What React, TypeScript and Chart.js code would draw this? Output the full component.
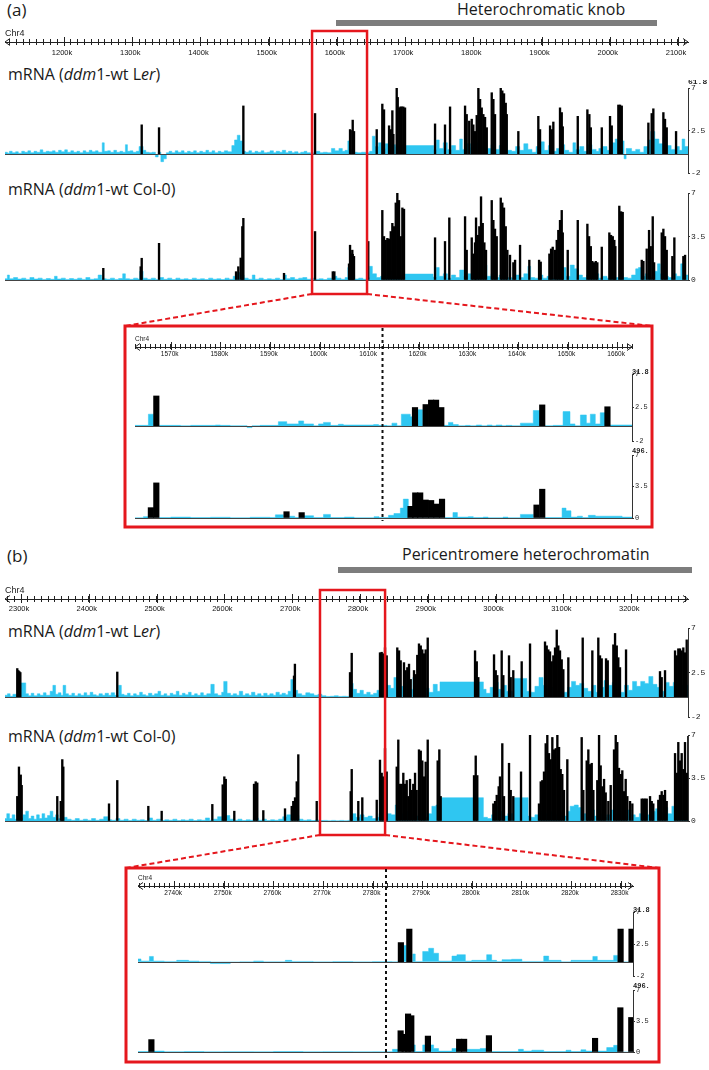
import React, { useEffect, useRef } from 'react';
import { Chart, registerables } from 'chart.js';

Chart.register(...registerables);

type Pt = [number, number]; // [position (kb), value]

// ---------------- genomic windows (kb) ----------------
const A_VIEW: [number, number] = [1113.5, 2114.7];
const A_ZOOM: [number, number] = [1562.8, 1663.0];
const A_BOX: [number, number] = [1563.6, 1644.2];
const A_MARK = 1612.7;
const B_VIEW: [number, number] = [2276.4, 3283.8];
const B_ZOOM: [number, number] = [2732.7, 2832.5];
const B_BOX: [number, number] = [2741, 2837];
const B_MARK = 2782.7;

// ---------------- y-axis ticks ----------------
const LER_TICKS = [-2, 2.5, 7];
const COL_TICKS = [0, 3.5, 7];

// ---------------- panel (a) overview ----------------
const A_LER_BLACK: Pt[] = [
  [1313.9,3.1],[1339.3,2.8],[1462.9,5.1],[1568,4.3],[1619.3,2.6],[1620.3,2.5],[1623.2,3.6],[1625.1,2.4],
  [1658.4,2.6],[1666.6,5.3],[1669.1,4.7],[1676.5,3.0],[1679,2.6],[1681.3,4.6],[1682.8,2.1],[1687.7,7.0],
  [1689.2,6.0],[1691.5,4.9],[1693.2,5.0],[1695,5.0],[1697.4,5.0],[1699.9,4.9],[1743.9,3.2],[1758.5,3.1],
  [1765.9,5.0],[1787.9,5.1],[1790.3,4.2],[1794,3.5],[1797.7,3.7],[1800,3.1],[1802.5,2.4],[1805,4.1],
  [1807.4,7.0],[1809.9,5.8],[1812.3,4.9],[1814.7,4.2],[1817.2,3.9],[1819.7,2.8],[1827,6.5],[1829.4,5.8],
  [1831.8,4.2],[1840.2,7.0],[1842.5,6.7],[1845,6.4],[1847.5,5.4],[1849,4.2],[1866,2.4],[1895.3,4.0],
  [1897.8,2.6],[1912.5,3.0],[1915.4,2.6],[1917.3,3.4],[1927.1,4.9],[1929.6,4.4],[1931.1,2.9],[1953.1,4.0],
  [1967.2,4.7],[1970.1,4.2],[1972.2,2.8],[1988.3,2.8],[2000.4,4.0],[2002.9,3.0],[2012.6,5.2],[2015.1,5.2],
  [2017.6,5.1],[2056.6,3.3],[2061.5,4.3],[2063.9,4.8],[2078.6,4.4],[2081,3.7],[2083.5,2.8],[2097.2,2.4],
];
const A_LER_CYAN: Pt[] = [
  [1113.5,0.2],[1117,0.1],[1120,0.3],[1124,0.15],[1129,0.25],[1133,0.1],[1138,0.3],[1142,0.2],[1147,0.35],
  [1151,0.15],[1156,0.3],[1160,0.2],[1165,0.45],[1169,0.2],[1174,0.3],[1178,0.25],[1183,0.35],[1187,0.2],
  [1192,0.4],[1196,0.25],[1201,0.45],[1205,0.2],[1210,0.35],[1214,0.2],[1219,0.3],[1223,0.15],[1228,0.35],
  [1232,0.2],[1237,0.4],[1241,0.25],[1246,0.35],[1250,0.2],[1256,1.2],[1259,0.3],[1264,0.35],[1268,0.2],
  [1273,0.4],[1277,0.2],[1282,0.3],[1286,0.2],[1290,1.0],[1293,0.3],[1297,0.35],[1301,0.2],[1306,0.3],
  [1310,0.8],[1316,0.4],[1320,0.2],[1325,0.15],[1329,0.2],[1334,-0.3],[1338,0.2],[1342,-0.8],[1346,-0.5],
  [1350,0.15],[1354,0.3],[1358,0.15],[1363,0.35],[1367,0.2],[1372,0.35],[1376,0.15],[1381,0.3],[1385,0.2],
  [1390,0.35],[1394,0.15],[1399,0.3],[1403,0.2],[1408,0.4],[1412,0.2],[1417,0.35],[1421,0.15],[1426,0.3],
  [1430,0.2],[1435,0.35],[1440,0.25],[1446,0.9],[1450,1.5],[1454,2.0],[1458,1.4],[1462,0.3],[1466,0.2],
  [1471,0.35],[1475,0.15],[1480,0.3],[1484,0.2],[1489,0.35],[1493,0.15],[1498,0.2],[1502,0.35],[1507,0.15],
  [1511,0.3],[1516,0.2],[1520,0.4],[1525,0.15],[1529,0.3],[1534,0.15],[1538,0.25],[1543,0.1],[1547,0.2],
  [1552,0.3],[1556,0.15],[1561,0.1],[1566,0.15],[1570,0.3],[1575,0.15],[1580,0.2],[1586,0.15],[1592,0.6],
  [1597,0.35],[1603,0.6],[1608,0.3],[1612,0.4],[1616,1.4],[1620,0.5],[1624,0.2],[1630,0.15],[1636,0.2],
  [1642,0.15],[1648,0.3],[1652,1.9],[1656,0.8],[1661,1.2],[1666,0.6],[1671,1.1],[1676,0.6],[1681,1.0],
  [1686,0.8],[1692,1.0],[1696,0.8],[1700,0.9],[1742,0.5],[1746,1.5],[1750,0.6],[1756,1.2],[1762,0.5],
  [1768,0.9],[1774,0.4],[1780,1.6],[1784,0.5],[1790,1.1],[1796,0.7],[1802,1.2],[1808,0.8],[1814,1.4],
  [1820,0.6],[1826,1.0],[1832,0.5],[1838,0.9],[1844,1.5],[1850,0.4],[1856,0.3],[1862,0.8],[1868,0.4],
  [1874,1.1],[1880,0.5],[1886,0.2],[1892,0.8],[1898,1.3],[1904,0.4],[1910,0.9],[1916,0.3],[1922,0.6],
  [1928,1.0],[1934,0.4],[1940,0.2],[1946,1.2],[1950,0.5],[1956,0.8],[1962,0.3],[1968,1.0],[1974,0.5],
  [1980,0.3],[1984,0.6],[1990,0.8],[1996,0.4],[2002,1.2],[2008,1.6],[2014,2.0],[2018,1.4],[2021,-0.5],
  [2024,0.6],[2032,0.3],[2038,0.5],[2044,0.2],[2050,0.8],[2056,1.5],[2060,2.4],[2066,1.6],[2072,1.1],
  [2078,1.8],[2084,0.9],[2090,0.5],[2096,0.8],[2102,0.4],[2106,1.6],[2110,0.8],[2114.7,0.8],
];
const A_COL_BLACK: Pt[] = [
  [1257.6,0.94],[1312.4,1.07],[1313.9,1.75],[1339.3,2.95],[1452.2,0.67],[1455.5,1.07],[1459,1.77],[1461.4,4.3],
  [1462.9,4.96],[1522.5,0.54],[1568,3.9],[1594,0.67],[1596.3,0.67],[1617.8,1.3],[1619.3,2.8],[1620.7,2.1],
  [1622.6,2.4],[1623.2,2.07],[1625.1,1.9],[1646,3.1],[1666.6,5.6],[1669.1,3.5],[1671.6,3.2],[1674,3.35],
  [1676.5,3.3],[1679,3.9],[1681.3,4.56],[1683.8,4.3],[1686.3,6.2],[1688.6,7.0],[1691.1,6.4],[1693.6,3.5],
  [1696,5.8],[1698.4,5.7],[1743.9,3.4],[1758.5,3.1],[1764.8,5.0],[1787.9,5.1],[1790.3,2.4],[1797.7,3.4],
  [1800,2.1],[1802.5,3.0],[1804,5.0],[1806.5,3.6],[1808.8,4.3],[1811.3,6.7],[1813.8,4.56],[1816.2,3.0],
  [1818.6,2.4],[1827,6.4],[1829.4,4.8],[1831.8,4.1],[1834.3,3.5],[1840.2,6.6],[1842.5,6.2],[1845,5.8],
  [1847.5,4.3],[1849.9,2.4],[1853.8,2.0],[1858.7,1.4],[1861.2,1.6],[1868.5,2.8],[1882.1,1.6],[1896.4,1.6],
  [1898.8,1.45],[1911.5,2.1],[1914,2.5],[1916.4,2.65],[1919.8,2.4],[1922.3,3.2],[1924.6,4.0],[1927.1,4.8],
  [1929.6,5.6],[1931.1,3.8],[1938.4,2.4],[1953.1,4.8],[1967.2,4.5],[1969.7,3.5],[1972.2,2.7],[1974.5,1.5],
  [1977,1.4],[1979.5,1.5],[1981.8,1.4],[1988.3,2.65],[1999.4,3.8],[2001.9,3.6],[2004.4,3.5],[2006.7,3.2],
  [2008.2,2.7],[2014,5.95],[2016.6,5.5],[2019,5.45],[2046.9,1.6],[2049.3,1.5],[2054.2,2.5],[2057.6,4.0],
  [2060.1,2.7],[2063,5.1],[2065,1.4],[2076.2,3.8],[2078.6,4.1],[2081,3.5],[2083.5,2.4],[2091.8,1.9],
  [2094.7,3.4],[2107.9,1.9],[2110.4,2.0],
];
const A_COL_CYAN: Pt[] = [
  [1113.5,0.1],[1117,0.4],[1120,0.1],[1126,0.2],[1132,0.08],[1138,0.15],[1144,0.05],[1150,0.2],[1156,0.08],
  [1162,0.15],[1168,0.05],[1174,0.12],[1180,0.06],[1186,0.3],[1190,0.08],[1196,0.15],[1202,0.05],[1208,0.12],
  [1214,0.06],[1220,0.15],[1226,0.05],[1232,0.2],[1238,0.06],[1244,0.1],[1250,0.4],[1255,0.1],[1262,0.06],
  [1268,0.15],[1274,0.05],[1280,0.12],[1286,0.5],[1290,0.1],[1296,0.06],[1302,0.15],[1308,0.08],[1311,0.7],
  [1316,0.15],[1322,0.06],[1328,0.15],[1334,0.05],[1340,0.2],[1346,0.06],[1352,0.15],[1358,0.04],[1364,0.15],
  [1370,0.06],[1376,0.1],[1382,0.04],[1388,0.15],[1394,0.06],[1400,0.1],[1406,0.04],[1412,0.15],[1418,0.06],
  [1424,0.1],[1430,0.04],[1436,0.15],[1442,0.06],[1448,0.3],[1452,0.6],[1458,0.4],[1464,0.15],[1470,0.06],
  [1476,0.4],[1480,0.06],[1486,0.15],[1492,0.04],[1498,0.1],[1504,0.06],[1510,0.15],[1516,0.04],[1522,0.4],
  [1526,0.1],[1532,0.2],[1538,0.06],[1544,0.15],[1550,0.2],[1556,0.06],[1562,0.15],[1568,0.06],[1574,0.1],
  [1580,0.04],[1586,0.15],[1592,0.06],[1596,0.3],[1600,0.15],[1606,0.06],[1612,0.2],[1616,1.0],[1620,0.4],
  [1626,0.08],[1632,0.15],[1638,0.06],[1644,0.2],[1648,1.1],[1652,0.5],[1658,0.2],[1664,0.3],[1668,1.2],
  [1672,0.4],[1678,0.7],[1684,0.3],[1690,0.5],[1696,0.25],[1700,0.48],[1741,0.25],[1746,1.0],[1750,0.3],
  [1756,0.5],[1762,0.15],[1768,0.4],[1774,0.2],[1780,0.8],[1786,0.3],[1792,0.5],[1798,0.2],[1804,0.6],
  [1810,0.4],[1816,1.2],[1820,0.3],[1826,0.5],[1832,0.2],[1838,0.4],[1844,0.8],[1850,0.2],[1856,0.15],
  [1862,0.4],[1868,0.2],[1874,0.5],[1880,1.1],[1884,0.2],[1890,0.15],[1896,0.4],[1902,0.15],[1908,0.3],
  [1914,0.15],[1920,0.4],[1926,0.2],[1932,1.0],[1936,0.3],[1942,1.2],[1948,0.9],[1954,0.4],[1960,0.2],
  [1966,0.4],[1972,0.2],[1978,0.5],[1984,0.15],[1990,0.3],[1996,0.15],[2002,0.4],[2008,0.2],[2014,0.5],
  [2020,0.2],[2026,0.15],[2032,0.4],[2038,0.9],[2042,1.0],[2046,0.3],[2052,0.5],[2058,0.2],[2064,0.7],
  [2070,1.3],[2074,0.5],[2080,0.3],[2086,0.2],[2092,0.5],[2098,0.3],[2104,1.3],[2108,0.4],[2114.7,0.4],
];

// ---------------- panel (a) zoom ----------------
const A_IN_LER_BLACK: Pt[] = [
  [1567.1,4.05],[1619.25,2.5],[1621.4,2.9],[1622.5,3.5],[1623.5,3.5],[1624.55,2.5],[1644.9,2.85],[1658.05,2.6],
];
const A_IN_LER_CYAN: Pt[] = [
  [1562.8,0.1],[1565.5,1.6],[1566.5,0],[1567.7,0.1],[1570,0.1],[1572,0.05],[1574,0.1],[1579,0.15],[1580,0.1],
  [1582,0.05],[1585.4,-0.2],[1586.4,0.05],[1588,0.1],[1591.7,0.6],[1593.4,0.3],[1595.8,0.7],[1596.8,0.3],
  [1598.8,0.05],[1599.8,0.3],[1600.8,0.5],[1602.2,0.1],[1603.8,0.25],[1604.8,0.15],[1610.9,0.2],[1611.9,0.1],
  [1613.6,0.05],[1614.6,0.4],[1615.6,0.05],[1616.5,1.6],[1618.3,1.25],[1618.8,0],[1619.7,2.2],[1620.8,0],
  [1625.1,0.1],[1626,0.5],[1626.9,0.2],[1628,0.05],[1629.4,0.1],[1630.4,0.05],[1631.6,0.15],[1632.7,0.05],
  [1633.8,0.15],[1634.8,0.05],[1635.6,0.15],[1636.8,0.05],[1637.6,0.1],[1638.8,0.05],[1640.5,0.4],[1643.1,2.1],
  [1644.4,0],[1645.4,0.05],[1647.1,0.1],[1649.1,1.95],[1650.5,0.3],[1651.5,0.05],[1652.6,1.5],[1653.8,0.4],
  [1654.6,1.6],[1655.6,0.3],[1656.6,1.8],[1657.6,0],[1658.5,0.15],[1663,0.15],
];
const A_IN_COL_BLACK: Pt[] = [
  [1566.0,1.15],[1567.1,3.9],[1593.35,0.7],[1596.4,0.6],[1618.35,1.3],[1619.3,2.8],[1620.3,2.8],[1621.4,2.0],
  [1622.5,1.95],[1623.6,1.55],[1624.7,2.1],[1643.75,1.45],[1644.9,3.2],
];
const A_IN_COL_CYAN: Pt[] = [
  [1562.8,0.02],[1564.5,0.15],[1565.5,0],[1567.7,0.05],[1570,0.1],[1574,0.05],[1578,0.08],[1582,0.03],
  [1586,0.08],[1590,0.05],[1591.1,0.35],[1592.7,0],[1594,0.2],[1595,0.05],[1596.7,0.25],[1598.8,0.05],
  [1600.8,0.4],[1602.2,0.05],[1605,0.1],[1607,0.03],[1611,0.15],[1612,0.05],[1613.9,0.3],[1615,0.5],
  [1616.3,1.1],[1616.9,2.1],[1617.9,0],[1625.2,0.05],[1626.9,0.6],[1627.8,0.1],[1630,0.15],[1631,0.05],
  [1633,0.1],[1634,0.03],[1637,0.1],[1638,0.03],[1640.5,0.4],[1643.1,0],[1645.4,0.05],[1648.9,1.1],
  [1649.7,0.8],[1650.7,0.1],[1652,0.2],[1653,0.05],[1654.2,0.3],[1655.6,0.2],[1660,0.2],[1661,0.1],[1663,0.1],
];

// ---------------- panel (b) overview ----------------
const B_LER_BLACK: Pt[] = [
  [2294.5,2.9],[2296,2.7],[2297.5,2.6],[2299,2.5],[2442,2.55],[2702.7,2.15],[2704,3.35],[2785.3,2.5],
  [2787.8,4.45],[2829.5,4.5],[2832,4.55],[2834.4,4.4],[2836.9,5.0],[2839.4,4.2],[2855,5.0],[2857.6,4.7],
  [2860,3.7],[2864.9,3.5],[2867.4,2.7],[2869.8,3.0],[2872.3,3.35],[2874.8,1.8],[2879.7,2.7],[2882.2,2.3],
  [2884.5,4.25],[2887,5.4],[2889.6,5.2],[2891.9,4.8],[2894.4,4.4],[2896.9,4.8],[2899.9,6.0],[2969.7,4.7],
  [2972.2,3.6],[2974.5,2.0],[2997.7,4.3],[3000.2,2.7],[3002.5,2.2],[3009,4.7],[3011.4,2.2],[3019.8,4.2],
  [3022.3,2.0],[3026.1,2.7],[3038.5,3.6],[3050.8,5.4],[3072.9,5.6],[3075.4,5.2],[3077.8,4.8],[3080.3,4.6],
  [3082.8,3.6],[3085.2,4.2],[3087.7,5.0],[3090.2,6.8],[3092.5,5.2],[3095,4.7],[3097.5,3.8],[3099.9,2.8],
  [3107.3,4.0],[3128.5,6.0],[3142.7,4.7],[3151.5,6.0],[3154,4.2],[3156.5,3.9],[3162.9,3.9],[3165.4,3.7],
  [3173.7,5.3],[3176.2,6.45],[3178.7,5.2],[3181,4.0],[3183.5,3.0],[3192.4,4.8],[3242.5,2.6],[3245,2.0],
  [3249.9,2.7],[3264.7,4.7],[3267.2,4.2],[3269.5,4.9],[3272,4.9],[3274.5,4.7],[3276.9,5.0],[3279.4,4.5],
  [3281.9,5.8],
];
const B_LER_CYAN: Pt[] = [
  [2276.4,0.2],[2280,0.35],[2284,0.1],[2288,0.3],[2293,0.15],[2300,1.45],[2307,0.35],[2311,0.15],[2315,0.4],
  [2319,0.15],[2324,0.35],[2328,0.2],[2333,0.45],[2337,0.2],[2343,0.6],[2347,1.2],[2351,0.3],[2355,0.45],
  [2359,0.2],[2362,1.2],[2366,0.35],[2370,0.2],[2375,0.4],[2379,0.15],[2384,0.35],[2388,0.2],[2393,0.45],
  [2397,0.2],[2402,0.5],[2406,0.25],[2411,0.15],[2415,0.35],[2420,0.2],[2424,0.4],[2429,0.2],[2433,0.45],
  [2438,0.2],[2444,1.2],[2448,0.3],[2452,0.2],[2457,0.4],[2461,0.15],[2466,0.35],[2470,0.2],[2475,0.5],
  [2479,0.25],[2484,0.15],[2488,0.4],[2493,0.2],[2497,0.35],[2502,0.6],[2506,0.2],[2511,0.35],[2515,0.15],
  [2520,0.4],[2524,0.25],[2529,0.6],[2533,0.2],[2538,0.4],[2542,0.25],[2547,0.5],[2551,0.2],[2556,0.35],
  [2560,0.2],[2565,0.45],[2569,0.2],[2574,0.35],[2580,1.3],[2585,0.35],[2590,0.2],[2596,0.5],[2599,1.6],
  [2604,0.4],[2609,0.2],[2613,0.35],[2618,0.2],[2622,0.6],[2627,0.2],[2631,0.35],[2636,0.2],[2640,0.5],
  [2645,0.2],[2649,0.35],[2654,0.15],[2658,0.4],[2663,0.2],[2667,0.35],[2672,0.2],[2676,0.5],[2681,0.25],
  [2685,0.4],[2690,0.25],[2694,0.6],[2698,1.8],[2703,0.7],[2708,0.35],[2714,0.2],[2720,0.45],[2726,0.35],
  [2732,0.2],[2738,0.3],[2744,0.15],[2750,0.08],[2756,0.1],[2762,0.15],[2768,0.08],[2774,0.1],[2780,0.08],
  [2786,1.4],[2790,0.8],[2795,0.4],[2800,0.7],[2805,0.3],[2810,0.5],[2815,0.25],[2820,0.4],[2825,0.7],
  [2830,0.3],[2840,1.2],[2845,0.9],[2850,2.0],[2855,1.5],[2860,1.1],[2866,1.5],[2872,0.8],[2878,2.0],
  [2884,1.4],[2890,1.6],[2896,0.9],[2902,0.5],[2908,1.3],[2914,0.6],[2918,1.55],[2982,0.8],[2986,0.4],
  [2992,1.0],[2998,1.5],[3004,0.8],[3010,1.2],[3016,0.6],[3026,1.9],[3046,0.6],[3052,0.5],[3058,1.1],
  [3064,2.0],[3070,1.2],[3076,0.8],[3082,1.0],[3088,0.6],[3094,0.9],[3100,0.5],[3106,1.0],[3112,1.6],
  [3118,1.2],[3124,1.4],[3130,0.9],[3136,0.6],[3142,1.2],[3148,0.5],[3154,1.0],[3160,1.7],[3166,1.2],
  [3172,1.5],[3178,0.8],[3184,0.5],[3190,1.2],[3196,0.7],[3202,1.6],[3208,1.1],[3214,1.6],[3220,1.4],
  [3226,2.1],[3232,1.3],[3238,1.0],[3244,0.6],[3250,1.5],[3256,1.1],[3262,1.5],[3268,0.8],[3274,1.2],
  [3283.8,1.2],
];
const B_COL_BLACK: Pt[] = [
  [2294.5,2.0],[2297,4.4],[2299.6,3.75],[2301,2.9],[2353.5,2.0],[2358.6,1.6],[2360.9,5.0],[2362.4,4.4],
  [2429.8,1.4],[2442,3.3],[2487.8,1.2],[2507.5,0.8],[2582.2,1.35],[2597.5,2.95],[2599.9,3.6],[2602,3.4],
  [2614.6,0.8],[2643.7,3.0],[2646.2,3.2],[2648.5,3.1],[2657.4,0.85],[2689.4,1.0],[2699.3,1.2],[2701.6,1.6],
  [2704.2,1.9],[2706.7,3.2],[2709,5.4],[2736.2,1.6],[2786.3,2.4],[2787.8,4.2],[2797.5,1.6],[2803.4,1.9],
  [2824.7,1.7],[2829.5,4.96],[2832,3.9],[2834.4,3.6],[2836.9,5.9],[2839.4,4.0],[2854.2,4.4],[2856.5,6.6],
  [2859,3.0],[2861.5,3.0],[2863.9,3.9],[2866.4,3.0],[2868.9,3.3],[2871.3,2.0],[2873.8,3.4],[2876.3,2.5],
  [2878.6,3.0],[2881.2,3.9],[2883.6,2.5],[2887,5.8],[2889.6,5.7],[2891.9,4.9],[2894.4,3.6],[2896.9,4.8],
  [2899.9,6.6],[2914.6,4.9],[2917,5.8],[2919,2.0],[2968.2,3.7],[2970.7,5.3],[2973,3.7],[2996.7,1.4],
  [2999.2,1.6],[3001.7,2.1],[3004.6,2.8],[3006.5,3.6],[3009.9,6.3],[3012.4,2.0],[3019.8,4.7],[3022.3,2.5],
  [3026.1,2.0],[3037.5,4.0],[3050.8,7.0],[3064,1.4],[3066.6,3.2],[3068.9,3.3],[3071.4,4.0],[3073.9,6.3],
  [3076.3,7.0],[3078.8,5.5],[3081.3,5.0],[3083.7,6.8],[3086.2,5.8],[3088.7,5.9],[3091.1,7.0],[3093.6,6.0],
  [3096,4.2],[3098.4,3.8],[3100.9,2.5],[3105.8,5.0],[3127,6.8],[3129.4,2.5],[3134.4,4.9],[3136.8,5.8],
  [3139.3,4.6],[3141.8,4.7],[3144.2,2.5],[3150,3.3],[3152.6,7.0],[3155,4.5],[3157.4,2.8],[3160,3.4],
  [3162.4,2.3],[3166.3,1.6],[3169.8,2.9],[3174.7,5.8],[3177.2,7.0],[3179.5,6.4],[3182,4.3],[3184.6,3.8],
  [3186.9,4.1],[3189.4,2.4],[3191.9,3.4],[3194.3,2.0],[3198.3,1.6],[3201.7,1.4],[3215.5,1.8],[3217.9,1.8],
  [3220.4,1.8],[3222.9,1.8],[3227.8,2.0],[3230.3,1.6],[3232.6,1.4],[3240,1.7],[3242.5,2.1],[3245,2.4],
  [3247.4,2.1],[3249.9,2.5],[3252.4,1.6],[3264.7,5.5],[3267.2,3.9],[3269.5,6.4],[3272,4.9],[3274.5,5.5],
  [3276.9,4.2],[3279.4,6.4],[3281.9,3.9],[3284.3,6.9],
];
const B_COL_CYAN: Pt[] = [
  [2276.4,0.2],[2279,0.6],[2283,0.2],[2287,0.5],[2291,0.15],[2295,0.7],[2299,0.25],[2303,0.5],[2307,0.8],
  [2311,0.2],[2315,0.4],[2319,0.15],[2323,0.5],[2327,0.2],[2331,0.6],[2335,0.25],[2339,0.45],[2343,0.8],
  [2347,0.3],[2351,0.5],[2355,0.2],[2359,0.8],[2363,0.3],[2368,0.15],[2374,0.06],[2380,0.2],[2386,0.06],
  [2392,0.15],[2398,0.06],[2404,0.2],[2410,0.06],[2416,0.15],[2422,0.35],[2428,0.1],[2434,0.06],[2440,0.2],
  [2446,0.06],[2452,0.15],[2458,0.04],[2464,0.15],[2470,0.06],[2476,0.1],[2482,0.04],[2488,0.25],[2494,0.06],
  [2500,0.15],[2506,0.04],[2512,0.1],[2518,0.06],[2524,0.15],[2530,0.04],[2536,0.1],[2542,0.06],[2548,0.15],
  [2554,0.04],[2560,0.1],[2566,0.06],[2572,0.25],[2578,0.06],[2584,0.15],[2590,0.35],[2596,0.15],[2602,0.45],
  [2608,0.15],[2614,0.06],[2620,0.15],[2626,0.04],[2632,0.1],[2638,0.06],[2644,0.25],[2650,0.06],[2656,0.15],
  [2662,0.04],[2668,0.1],[2674,0.06],[2680,0.15],[2686,0.35],[2692,0.5],[2698,0.25],[2704,0.45],[2710,0.15],
  [2716,0.06],[2722,0.1],[2728,0.04],[2734,0.08],[2740,0.04],[2746,0.05],[2752,0.02],[2758,0.05],[2764,0.02],
  [2770,0.05],[2776,0.02],[2782,0.05],[2788,0.6],[2794,0.3],[2800,0.5],[2806,0.3],[2812,0.4],[2818,0.2],
  [2824,0.3],[2828,0.6],[2834,0.3],[2840,0.6],[2846,0.5],[2852,1.3],[2858,0.6],[2864,0.4],[2870,0.8],
  [2876,0.5],[2882,0.4],[2888,0.6],[2894,0.3],[2900,0.6],[2906,1.2],[2912,1.3],[2918,1.9],[2982,0.3],
  [2988,0.2],[2994,0.5],[3000,1.2],[3006,0.8],[3012,0.4],[3018,0.6],[3026,1.9],[3048,0.4],[3052,0.3],
  [3058,0.5],[3064,0.8],[3070,0.6],[3076,0.5],[3082,0.8],[3088,0.5],[3094,0.7],[3100,0.4],[3106,0.8],
  [3110,1.2],[3116,1.3],[3122,1.1],[3128,0.6],[3134,0.3],[3140,0.9],[3146,0.4],[3152,0.6],[3158,0.3],
  [3164,0.5],[3170,0.9],[3176,0.6],[3182,0.8],[3188,0.4],[3194,0.9],[3200,0.5],[3206,0.3],[3212,0.6],
  [3218,0.9],[3224,0.5],[3230,0.8],[3236,1.0],[3242,0.7],[3248,1.1],[3254,0.6],[3260,1.2],[3266,1.3],
  [3272,0.8],[3278,0.6],[3283.8,0.6],
];

// ---------------- panel (b) zoom ----------------
const B_IN_LER_BLACK: Pt[] = [
  [2785.7,2.7],[2787.4,4.6],[2830.0,4.6],[2832.2,4.6],
];
const B_IN_LER_CYAN: Pt[] = [
  [2732.7,0.4],[2733.3,0.1],[2735.0,0.75],[2735.8,0.1],[2738,0.05],[2740.5,0.2],[2742.9,0.1],[2745,0.05],
  [2747.3,-0.25],[2751.3,-0.1],[2753.3,0.02],[2756,0.1],[2758,0.02],[2762.4,0.2],[2763.7,0.05],[2768,-0.05],
  [2772,0.03],[2776,-0.05],[2780,0.03],[2784,0.02],[2786.2,2.3],[2786.8,0],[2788.1,1.1],[2788.6,0.05],
  [2790.1,1.45],[2791.3,1.9],[2792.3,1.2],[2793.3,0.1],[2796,0.8],[2797,1.0],[2798.7,0.1],[2800,0.2],
  [2803,1.0],[2804,0.2],[2805,0.05],[2806.1,0.3],[2808,0.35],[2810.1,0.05],[2814.5,0.8],[2815.5,0.2],
  [2818,-0.05],[2820,0.2],[2824.4,0.75],[2825.3,0.2],[2828.6,0.9],[2829.4,0],[2832.5,0],
];
const B_IN_COL_BLACK: Pt[] = [
  [2735.4,1.4],[2785.65,2.4],[2786.45,2.0],[2787.15,4.3],[2787.8,4.1],[2791.15,1.8],[2797.45,1.45],
  [2798.45,1.45],[2803.45,1.85],[2824.85,1.55],[2829.95,5.0],[2832.15,3.9],
];
const B_IN_COL_CYAN: Pt[] = [
  [2732.7,0.05],[2735.8,0.1],[2738,0.03],[2742,0.05],[2746,0.02],[2750,0.04],[2756,0.02],[2760,0.05],
  [2766,0.02],[2770,0.04],[2776,0.02],[2780,0.03],[2784,0.3],[2785.2,0],[2788.1,0.8],[2788.6,0.05],
  [2790.1,0.8],[2790.8,0],[2791.5,0.8],[2792.3,0.4],[2793.3,0.1],[2796,0.4],[2797,0],[2798.9,0.3],
  [2800,0.3],[2801.7,0.4],[2802.9,0],[2804,0.05],[2809.4,0.3],[2810.4,0.1],[2812.1,0.2],[2814.5,0.05],
  [2819,0.2],[2820,0.05],[2822,0.25],[2823,0.1],[2824.4,0],[2825.3,0.1],[2827.2,0.5],[2828.6,0.75],
  [2829.4,0],[2832.5,0],
];

// ---------------- layout ----------------
const W = 709;
const H = 1070;
const CYAN = '#2fc6f1';
const RED = '#e5171d';
const AXIS_PAD_TOP = 12;
const AXIS_AREA = 3;
const AXIS_BOX = 14;
const AXIS_H = AXIS_PAD_TOP + AXIS_AREA + AXIS_BOX;
const TRACK_PAD = 8;
const YAXIS_W = 21;

interface AxisSpec {
  key: string; y: number; left: number; right: number; range: [number, number];
  minor: number; major: number; chrSize: number; labelPad: number; tick: number; labelSize: number; labelShift: number;
}
const AXES: AxisSpec[] = [
  { key: 'axA', y: 42, left: 5, right: 688, range: A_VIEW, minor: 10, major: 100, chrSize: 9, labelPad: 3, tick: 3, labelSize: 7.5, labelShift: -2 },
  { key: 'axAi', y: 347, left: 135, right: 632, range: A_ZOOM, minor: 1, major: 10, chrSize: 6.5, labelPad: 1, tick: 2, labelSize: 6.5, labelShift: -1 },
  { key: 'axB', y: 599, left: 5, right: 688, range: B_VIEW, minor: 10, major: 100, chrSize: 9, labelPad: 2, tick: 3, labelSize: 7.5, labelShift: -2 },
  { key: 'axBi', y: 886, left: 138, right: 633, range: B_ZOOM, minor: 1, major: 10, chrSize: 6.5, labelPad: 1, tick: 2, labelSize: 6.5, labelShift: -1 },
];

interface TrackSpec {
  key: string; top: number; bottom: number; left: number; right: number; range: [number, number];
  yMin: number; yMax: number; ticks: number[]; cyan: Pt[]; black: Pt[]; bar: number; font: number;
  topLabel?: string; topDy?: number;
}
const TRACKS: TrackSpec[] = [
  { key: 'aLer', top: 88, bottom: 173, left: 5, right: 688, range: A_VIEW, yMin: -2, yMax: 7, ticks: LER_TICKS, cyan: A_LER_CYAN, black: A_LER_BLACK, bar: 1.7, font: 8, topLabel: '61.8', topDy: -4 },
  { key: 'aCol', top: 193, bottom: 280, left: 5, right: 688, range: A_VIEW, yMin: 0, yMax: 7, ticks: COL_TICKS, cyan: A_COL_CYAN, black: A_COL_BLACK, bar: 1.7, font: 8 },
  { key: 'aiLer', top: 374, bottom: 441, left: 135, right: 632, range: A_ZOOM, yMin: -2, yMax: 7, ticks: LER_TICKS, cyan: A_IN_LER_CYAN, black: A_IN_LER_BLACK, bar: 5.5, font: 7, topLabel: '31.8', topDy: 0 },
  { key: 'aiCol', top: 455, bottom: 518, left: 135, right: 632, range: A_ZOOM, yMin: 0, yMax: 7, ticks: COL_TICKS, cyan: A_IN_COL_CYAN, black: A_IN_COL_BLACK, bar: 5.5, font: 7, topLabel: '496.', topDy: -2 },
  { key: 'bLer', top: 628, bottom: 717, left: 5, right: 688, range: B_VIEW, yMin: -2, yMax: 7, ticks: LER_TICKS, cyan: B_LER_CYAN, black: B_LER_BLACK, bar: 1.7, font: 8 },
  { key: 'bCol', top: 735, bottom: 821, left: 5, right: 688, range: B_VIEW, yMin: 0, yMax: 7, ticks: COL_TICKS, cyan: B_COL_CYAN, black: B_COL_BLACK, bar: 1.7, font: 8 },
  { key: 'biLer', top: 912, bottom: 976, left: 138, right: 633, range: B_ZOOM, yMin: -2, yMax: 7, ticks: LER_TICKS, cyan: B_IN_LER_CYAN, black: B_IN_LER_BLACK, bar: 5.5, font: 7, topLabel: '31.8', topDy: 0 },
  { key: 'biCol', top: 990, bottom: 1052, left: 138, right: 633, range: B_ZOOM, yMin: 0, yMax: 7, ticks: COL_TICKS, cyan: B_IN_COL_CYAN, black: B_IN_COL_BLACK, bar: 5.5, font: 7, topLabel: '496.', topDy: -2 },
];

const isMajor = (v: number, major: number) => Math.abs(v / major - Math.round(v / major)) < 1e-6;

function makeAxis(canvas: HTMLCanvasElement, a: AxisSpec): Chart {
  const decor = {
    id: 'axisDecor',
    afterDraw(chart: any) {
      const { ctx, chartArea } = chart;
      const { left, right, bottom } = chartArea;
      const sx = chart.scales.x;
      ctx.save();
      ctx.strokeStyle = '#222';
      ctx.lineWidth = 1;
      ctx.beginPath();
      ctx.moveTo(left + 5, bottom - 3.5); ctx.lineTo(left, bottom); ctx.lineTo(left + 5, bottom + 3.5);
      ctx.moveTo(right - 5, bottom - 3.5); ctx.lineTo(right, bottom); ctx.lineTo(right - 5, bottom + 3.5);
      for (const t of sx.ticks) {
        if (isMajor(t.value, a.major)) {
          const x = Math.round(sx.getPixelForValue(t.value)) + 0.5;
          ctx.moveTo(x, bottom - 5); ctx.lineTo(x, bottom + a.tick + 1);
        }
      }
      ctx.stroke();
      ctx.fillStyle = '#222';
      ctx.font = `${a.chrSize}px 'Liberation Sans', Arial, sans-serif`;
      ctx.textBaseline = 'alphabetic';
      ctx.fillText('Chr4', left, bottom - 6);
      ctx.restore();
    },
  };
  return new Chart(canvas, {
    type: 'line',
    data: { datasets: [] },
    options: {
      responsive: false,
      animation: false,
      events: [],
      layout: { padding: { left: a.left, right: W - a.right, top: AXIS_PAD_TOP, bottom: 0 } },
      plugins: { legend: { display: false }, tooltip: { enabled: false } },
      scales: {
        x: {
          type: 'linear', position: 'bottom', min: a.range[0], max: a.range[1], offset: false,
          afterBuildTicks: (s: any) => {
            const t: { value: number }[] = [];
            for (let v = Math.ceil(a.range[0] / a.minor) * a.minor; v <= a.range[1]; v += a.minor) t.push({ value: v });
            s.ticks = t;
          },
          afterFit: (s: any) => { s.height = AXIS_BOX; },
          grid: { drawOnChartArea: true, drawTicks: true, tickLength: a.tick, color: '#222', lineWidth: 1 },
          border: { display: true, color: '#222', width: 1 },
          ticks: {
            autoSkip: false, maxRotation: 0, minRotation: 0, padding: a.labelPad, color: '#111',
            labelOffset: a.labelShift,
            font: { family: "'Liberation Sans', Arial, sans-serif", size: a.labelSize },
            callback: (v: any) => (isMajor(Number(v), a.major) ? `${Math.round(Number(v))}k` : ''),
          },
        },
        y: { display: false, min: 0, max: 1 },
      },
    } as any,
    plugins: [decor],
  });
}

function makeTrack(canvas: HTMLCanvasElement, t: TrackSpec): Chart {
  const deco = {
    id: 'trackDecor',
    afterDatasetsDraw(chart: any) {
      const { ctx, chartArea } = chart;
      const y0 = Math.round(chart.scales.y.getPixelForValue(0)) + 0.5;
      ctx.save();
      ctx.strokeStyle = '#444';
      ctx.lineWidth = 1.2;
      ctx.beginPath();
      ctx.moveTo(chartArea.left, y0);
      ctx.lineTo(chartArea.right, y0);
      ctx.stroke();
      ctx.restore();
    },
    afterDraw(chart: any) {
      if (!t.topLabel) return;
      const { ctx, chartArea } = chart;
      ctx.save();
      ctx.fillStyle = '#222';
      ctx.font = `bold ${t.font}px 'Liberation Mono', 'DejaVu Sans Mono', monospace`;
      ctx.textBaseline = 'alphabetic';
      ctx.fillText(t.topLabel, chartArea.right, chartArea.top + (t.topDy || 0));
      ctx.restore();
    },
  };
  return new Chart(canvas, {
    type: 'bar',
    data: {
      datasets: [
        {
          type: 'bar',
          data: t.black.map(([x, y]) => ({ x, y })),
          backgroundColor: '#000',
          borderWidth: 0,
          barThickness: t.bar,
          grouped: false,
          order: 0,
        },
        {
          type: 'line',
          data: t.cyan.map(([x, y]) => ({ x, y })),
          stepped: true,
          fill: 'origin',
          backgroundColor: CYAN,
          borderColor: CYAN,
          borderWidth: 0.5,
          pointRadius: 0,
          tension: 0,
          order: 1,
        },
      ],
    },
    options: {
      responsive: false,
      animation: false,
      events: [],
      layout: { padding: { left: t.left, right: 0, top: TRACK_PAD, bottom: TRACK_PAD } },
      plugins: { legend: { display: false }, tooltip: { enabled: false } },
      scales: {
        x: { type: 'linear', min: t.range[0], max: t.range[1], display: false, offset: false, grid: { offset: false } },
        y: {
          type: 'linear', position: 'right', min: t.yMin, max: t.yMax,
          afterBuildTicks: (s: any) => { s.ticks = t.ticks.map((v) => ({ value: v })); },
          afterFit: (s: any) => { s.width = YAXIS_W; },
          grid: { drawOnChartArea: false, drawTicks: true, tickLength: 2, color: '#333' },
          border: { display: true, color: '#333', width: 1 },
          ticks: {
            padding: 1, color: '#222',
            font: { family: "'Liberation Mono', 'DejaVu Sans Mono', monospace", size: t.font },
            callback: (v: any) => String(v),
          },
        },
      },
    } as any,
    plugins: [deco],
  });
}

function drawOverlay(ctx: CanvasRenderingContext2D, ch: Record<string, Chart>) {
  const px = (c: Chart, v: number) => (c.scales as any).x.getPixelForValue(v);
  const frame = (
    bx0: number, bx1: number, by0: number, by1: number,
    ix0: number, ix1: number, iy0: number, iy1: number,
  ) => {
    ctx.save();
    ctx.strokeStyle = RED;
    ctx.lineWidth = 2.5;
    ctx.strokeRect(bx0, by0, bx1 - bx0, by1 - by0);
    ctx.lineWidth = 2;
    ctx.setLineDash([5, 3]);
    ctx.beginPath();
    ctx.moveTo(bx0, by1); ctx.lineTo(ix0, iy0);
    ctx.moveTo(bx1, by1); ctx.lineTo(ix1, iy0);
    ctx.stroke();
    ctx.setLineDash([]);
    ctx.lineWidth = 3;
    ctx.strokeRect(ix0, iy0, ix1 - ix0, iy1 - iy0);
    ctx.restore();
  };
  const mark = (x: number, y0: number, y1: number) => {
    ctx.save();
    ctx.strokeStyle = '#111';
    ctx.lineWidth = 2;
    ctx.setLineDash([3, 3]);
    ctx.beginPath();
    ctx.moveTo(x, y0); ctx.lineTo(x, y1);
    ctx.stroke();
    ctx.restore();
  };
  frame(px(ch.axA, A_BOX[0]), px(ch.axA, A_BOX[1]), 31, 294, 125, 652, 326, 527);
  mark(px(ch.axAi, A_MARK), 328, 521);
  frame(px(ch.axB, B_BOX[0]), px(ch.axB, B_BOX[1]), 590, 835, 126, 659, 868, 1062);
  mark(px(ch.axBi, B_MARK), 869, 1058);
}

const txt = (left: number, top: number, size: number, content: React.ReactNode, key: string) => (
  <div
    key={key}
    style={{
      position: 'absolute', left, top, fontSize: size, lineHeight: 1, whiteSpace: 'nowrap',
      color: '#1a1a1a', fontFamily: "'Open Sans', 'Noto Sans', sans-serif",
    }}
  >
    {content}
  </div>
);

export default function App() {
  const refs = useRef<Record<string, HTMLCanvasElement | null>>({});
  const overlayRef = useRef<HTMLCanvasElement | null>(null);

  useEffect(() => {
    const charts: Chart[] = [];
    const byKey: Record<string, Chart> = {};
    for (const a of AXES) {
      const c = makeAxis(refs.current[a.key]!, a);
      charts.push(c);
      byKey[a.key] = c;
    }
    for (const t of TRACKS) charts.push(makeTrack(refs.current[t.key]!, t));
    const ctx = overlayRef.current!.getContext('2d')!;
    ctx.clearRect(0, 0, W, H);
    drawOverlay(ctx, byKey);
    return () => charts.forEach((c) => c.destroy());
  }, []);

  const ler = <>mRNA (<i>ddm</i>1-wt L<i>er</i>)</>;
  const col = <>mRNA (<i>ddm</i>1-wt Col-0)</>;

  return (
    <div style={{ position: 'absolute', left: 0, top: 0, width: W, height: H, overflow: 'hidden', background: '#fff' }}>
      {txt(7, 1, 17, '(a)', 't1')}
      {txt(457, 1, 16, 'Heterochromatic knob', 't2')}
      <div style={{ position: 'absolute', left: 336, top: 20, width: 321, height: 5.5, background: '#7d7d7d' }} />
      {txt(8, 66, 16, ler, 't3')}
      {txt(8, 181, 16, col, 't4')}
      {txt(7, 547, 17, '(b)', 't5')}
      {txt(402, 546, 16, 'Pericentromere heterochromatin', 't6')}
      <div style={{ position: 'absolute', left: 338, top: 567, width: 354, height: 6, background: '#7d7d7d' }} />
      {txt(8, 623, 16, ler, 't7')}
      {txt(8, 728, 16, col, 't8')}

      {AXES.map((a) => (
        <canvas
          key={a.key}
          ref={(el) => { refs.current[a.key] = el; }}
          width={W}
          height={AXIS_H}
          style={{ position: 'absolute', left: 0, top: a.y - AXIS_PAD_TOP - AXIS_AREA }}
        />
      ))}
      {TRACKS.map((t) => (
        <canvas
          key={t.key}
          ref={(el) => { refs.current[t.key] = el; }}
          width={t.right + YAXIS_W}
          height={t.bottom - t.top + 2 * TRACK_PAD}
          style={{ position: 'absolute', left: 0, top: t.top - TRACK_PAD }}
        />
      ))}
      <canvas
        ref={overlayRef}
        width={W}
        height={H}
        style={{ position: 'absolute', left: 0, top: 0, pointerEvents: 'none' }}
      />
    </div>
  );
}
